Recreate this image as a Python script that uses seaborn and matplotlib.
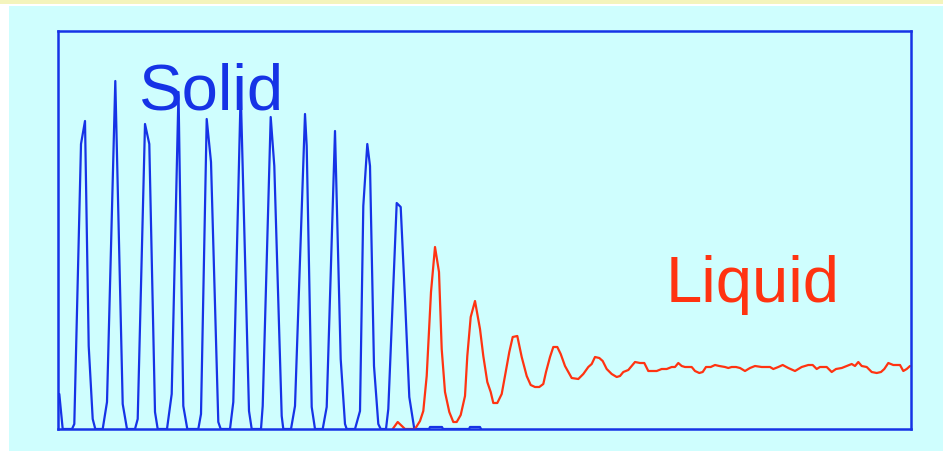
import matplotlib
matplotlib.use("Agg")
import matplotlib.pyplot as plt
import seaborn as sns
import pandas as pd
from matplotlib.patches import Rectangle

# ---- data (arbitrary units) ----
solid_x = [1.3, 4.7,
           14, 16.3, 23, 27, 30.7, 34.7, 37.3,
           44.7, 49, 57.3, 64.7, 69,
           77, 79.7, 87, 91.3, 97, 99.7,
           109, 113.7, 120.5, 125.3, 129.3,
           140.3, 143, 148.7, 153, 160.3, 162.7,
           172, 175.3, 182.7, 191, 193.7,
           203, 204.7, 212.7, 216.3, 223.7, 225.3,
           233, 237, 247, 248.7, 253.7, 257,
           264.7, 268.7, 277, 282.7, 287, 288.7,
           297, 302, 305.3, 309.3, 312, 316, 320.3, 322.7,
           328, 330.3, 338.7, 342.7, 347, 351.3, 356.3,
           371, 372, 384, 385, 411, 412, 422, 423]
solid_y = [35, 0,
           0, 5, 285, 308, 83, 10, 0,
           0, 27, 348, 25, 0,
           0, 10, 305, 285, 17, 0,
           0, 35, 337, 23, 0,
           0, 15, 310, 267, 7, 0,
           0, 27, 338, 18, 0,
           0, 23, 312, 263, 13, 0,
           0, 23, 315, 283, 22, 0,
           0, 22, 298, 70, 5, 0,
           0, 18, 223, 285, 263, 63, 5, 0,
           0, 20, 226, 222, 130, 32, 0,
           0, 2, 2, 0, 0, 2, 2, 0]

liquid_x = [334.7, 339.7, 347, 357, 362, 365.3, 368.7, 373, 377, 381, 383.7, 387,
            391.3, 395.3, 398.7, 402.7, 407, 409.3, 412.7, 417, 422, 425.3, 429.3,
            432.7, 435.3, 439.3, 443.7, 447.7, 451.3, 454.7, 459.3, 463.7, 468.7,
            472.7, 477, 481.3, 485.3, 488, 492, 495.3, 499.3, 502.7, 507, 513.7,
            520.3, 525.3, 530.3, 533.7, 537, 541.3, 544.7, 548.7, 553.7, 558.7,
            562, 565.3, 570.3, 577, 582, 586.3, 590.3, 598.7, 603.7, 608.7, 613.7,
            617, 620.3, 623.7, 627, 633.7, 637, 641.3, 644.7, 648, 652.7, 657,
            661.3, 667, 670.3, 673.7, 678, 682, 687, 692, 697, 703.7, 712, 715.3,
            720.3, 724.7, 730.3, 737, 743.7, 750.3, 754.7, 758.7, 762, 768.7,
            773.7, 778, 783.7, 788.7, 793.7, 797, 800.3, 803.7, 808.7, 813.7,
            818.7, 823, 826.3, 830.3, 835.3, 842, 845.3, 848.7, 852]
liquid_y = [0, 7, 0, 0, 8, 18, 53, 137, 182, 157, 80, 37,
            17, 7, 7, 14, 33, 73, 112, 128, 100, 73, 47,
            37, 26, 26, 35, 57, 77, 92, 93, 72, 53,
            44, 42, 42, 45, 57, 72, 82, 82, 75, 63, 51,
            50, 55, 62, 65, 72, 71, 68, 60, 55, 52,
            53, 57, 59, 67, 66, 66, 58, 58, 60, 60, 62,
            62, 66, 63, 62, 62, 58, 56, 57, 62, 62, 64,
            63, 62, 61, 62, 62, 61, 58, 61, 63, 62, 62, 60,
            62, 64, 61, 58, 62, 64, 64, 60, 62, 62,
            57, 60, 61, 63, 65, 63, 67, 63, 62, 57,
            56, 57, 60, 66, 64, 64, 58, 60, 63]

phase_labels = ["Solid", "Liquid"]

# ---- styling ----
CYAN = "#CFFEFE"
BLUE = "#1633E6"
RED = "#FF3311"

df = pd.concat([
    pd.DataFrame({"x": solid_x, "y": solid_y, "phase": phase_labels[0]}),
    pd.DataFrame({"x": liquid_x, "y": liquid_y, "phase": phase_labels[1]}),
], ignore_index=True)

sns.set_theme(style="white")
plt.rcParams["font.family"] = ["Liberation Sans", "DejaVu Sans"]

fig = plt.figure(figsize=(9.43, 4.52), dpi=100, facecolor="white")
W, H = 943, 452
# cyan slide panel and pale yellow top strip
fig.patches.append(Rectangle((9 / W, 0), 1 - 9 / W, (H - 7) / H,
                             transform=fig.transFigure, facecolor=CYAN,
                             edgecolor="none", zorder=-10))
fig.patches.append(Rectangle((0, (H - 5) / H), 1, 5 / H,
                             transform=fig.transFigure, facecolor="#F4F4BC",
                             edgecolor="none", zorder=-10))

ax = fig.add_axes([58 / W, 1 - 430 / H, (911 - 58) / W, (430 - 32) / H])
ax.set_facecolor(CYAN)

sns.lineplot(data=df, x="x", y="y", hue="phase",
             palette={phase_labels[0]: BLUE, phase_labels[1]: RED},
             estimator=None, sort=False, legend=False, linewidth=1.6, ax=ax)

ax.set_xlim(0, 853)
ax.set_ylim(0, 398)
ax.set_xticks([])
ax.set_yticks([])
ax.set_xlabel("")
ax.set_ylabel("")
for s in ax.spines.values():
    s.set_color(BLUE)
    s.set_linewidth(1.8)
    s.set_visible(True)

ax.text(81, 320, phase_labels[0], color=BLUE, fontsize=47,
        ha="left", va="baseline")
ax.text(608, 128, phase_labels[1], color=RED, fontsize=47,
        ha="left", va="baseline")

fig.savefig("out.png", dpi=100, facecolor=fig.get_facecolor())
